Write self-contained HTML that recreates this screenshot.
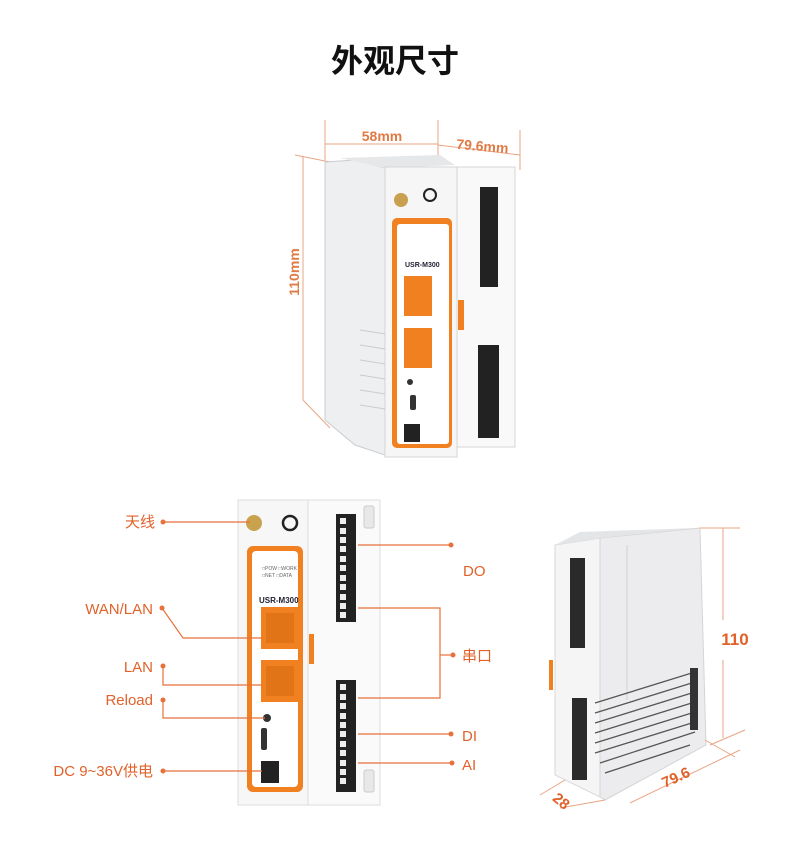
<!DOCTYPE html>
<html><head><meta charset="utf-8"><style>
body{margin:0;background:#fff;}
svg{display:block}
text{font-family:"Liberation Sans","Noto Sans CJK SC",sans-serif}
</style></head><body>
<svg width="790" height="860" viewBox="0 0 790 860" xmlns="http://www.w3.org/2000/svg">
<rect width="790" height="860" fill="#fff"/>
<text x="395" y="72" font-size="32" font-weight="bold" text-anchor="middle" fill="#111" font-family="Noto Sans CJK SC,sans-serif">外观尺寸</text>

<!-- top dimension lines -->
<g stroke="#e8a585" stroke-width="1" fill="none">
<line x1="325" y1="144" x2="438" y2="144"/>
<line x1="325" y1="120" x2="325" y2="160"/>
<line x1="438" y1="120" x2="438" y2="160"/>
<line x1="438" y1="145" x2="520" y2="155"/>
<line x1="520" y1="130" x2="520" y2="170"/>
<line x1="303" y1="157" x2="303" y2="400"/>
<line x1="295" y1="155" x2="330" y2="162"/>
<line x1="303" y1="400" x2="330" y2="428"/>
</g>
<text x="382" y="141" font-size="14" font-weight="bold" fill="#e07a45" text-anchor="middle">58mm</text>
<text x="482" y="151" font-size="14" font-weight="bold" fill="#e07a45" text-anchor="middle" transform="rotate(5 482 151)">79.6mm</text>
<text x="299" y="272" font-size="14" font-weight="bold" fill="#e07a45" text-anchor="middle" transform="rotate(-90 299 272)">110mm</text>

<!-- top device -->
<polygon points="325,162 355,160 385,168 385,455 355,445 325,420" fill="#eeeff1" stroke="#ccc"/>
<polygon points="340,158 440,155 455,165 385,168" fill="#e6e7e9"/>
<rect x="385" y="167" width="72" height="290" fill="#f6f6f7" stroke="#d5d5d5"/>
<rect x="392" y="218" width="60" height="230" rx="5" fill="#f08020"/>
<rect x="397" y="224" width="52" height="220" rx="3" fill="#fff"/>
<rect x="404" y="276" width="28" height="40" fill="#f08020"/>
<rect x="404" y="328" width="28" height="40" fill="#f08020"/>
<circle cx="401" cy="200" r="7" fill="#c8a050"/>
<circle cx="430" cy="195" r="6" fill="none" stroke="#222" stroke-width="2"/>
<text x="405" y="267" font-size="7" font-weight="bold" fill="#223">USR-M300</text>
<rect x="410" y="395" width="6" height="15" rx="2" fill="#333"/>
<circle cx="410" cy="382" r="3" fill="#333"/>
<rect x="404" y="424" width="16" height="18" fill="#222"/>
<g stroke="#ccc"><line x1="360" y1="330" x2="385" y2="334"/><line x1="360" y1="345" x2="385" y2="349"/><line x1="360" y1="360" x2="385" y2="364"/><line x1="360" y1="375" x2="385" y2="379"/><line x1="360" y1="390" x2="385" y2="394"/><line x1="360" y1="405" x2="385" y2="409"/></g>
<rect x="457" y="167" width="58" height="280" fill="#f9f9fa" stroke="#d5d5d5"/>
<rect x="480" y="187" width="18" height="100" fill="#222"/>
<rect x="478" y="345" width="21" height="93" fill="#222"/>
<rect x="458" y="300" width="6" height="30" fill="#f08020"/>

<!-- bottom front device -->
<rect x="238" y="500" width="70" height="305" fill="#f7f7f8" stroke="#ddd"/>
<rect x="308" y="500" width="72" height="305" fill="#fafafa" stroke="#ddd"/>
<rect x="247" y="546" width="56" height="246" rx="6" fill="#f08020"/>
<rect x="252" y="551" width="46" height="236" rx="4" fill="#fff"/>
<rect x="261" y="607" width="38" height="42" fill="#f08020"/>
<rect x="266" y="613" width="28" height="30" fill="#e27418"/>
<rect x="261" y="660" width="38" height="42" fill="#f08020"/>
<rect x="266" y="666" width="28" height="30" fill="#e27418"/>
<text x="259" y="603" font-size="8" font-weight="bold" fill="#223">USR-M300</text>
<text x="262" y="570" font-size="5" fill="#666">□POW □WORK</text>
<text x="262" y="577" font-size="5" fill="#666">□NET  □DATA</text>
<circle cx="254" cy="523" r="8" fill="#c9a24e"/>
<circle cx="290" cy="523" r="7" fill="none" stroke="#222" stroke-width="2.5"/>
<circle cx="267" cy="718" r="4" fill="#333"/>
<rect x="261" y="728" width="6" height="22" rx="2" fill="#333"/>
<rect x="261" y="761" width="18" height="22" fill="#222"/>
<rect x="336" y="514" width="20" height="108" fill="#222"/>
<rect x="336" y="680" width="20" height="112" fill="#222"/>
<g fill="#eee">
<rect x="340" y="518" width="6" height="6"/><rect x="340" y="528" width="6" height="6"/><rect x="340" y="537" width="6" height="6"/><rect x="340" y="546" width="6" height="6"/><rect x="340" y="556" width="6" height="6"/><rect x="340" y="565" width="6" height="6"/><rect x="340" y="575" width="6" height="6"/><rect x="340" y="584" width="6" height="6"/><rect x="340" y="594" width="6" height="6"/><rect x="340" y="603" width="6" height="6"/><rect x="340" y="612" width="6" height="6"/>
<rect x="340" y="684" width="6" height="6"/><rect x="340" y="694" width="6" height="6"/><rect x="340" y="703" width="6" height="6"/><rect x="340" y="713" width="6" height="6"/><rect x="340" y="722" width="6" height="6"/><rect x="340" y="731" width="6" height="6"/><rect x="340" y="741" width="6" height="6"/><rect x="340" y="750" width="6" height="6"/><rect x="340" y="760" width="6" height="6"/><rect x="340" y="769" width="6" height="6"/><rect x="340" y="778" width="6" height="6"/>
</g>
<rect x="364" y="506" width="10" height="22" rx="2" fill="#e8e8e8" stroke="#ccc"/>
<rect x="364" y="770" width="10" height="22" rx="2" fill="#e8e8e8" stroke="#ccc"/>
<rect x="309" y="634" width="5" height="30" fill="#f08020"/>

<!-- callouts -->
<g stroke="#e8703a" stroke-width="1.2" fill="none">
<line x1="163" y1="522" x2="250" y2="522"/>
<polyline points="162,608 183,638 262,638"/>
<polyline points="163,666 163,685 262,685"/>
<polyline points="163,700 163,718 265,718"/>
<line x1="163" y1="771" x2="262" y2="771"/>
<line x1="358" y1="545" x2="451" y2="545"/>
<polyline points="358,608 440,608 440,698 358,698"/>
<line x1="440" y1="655" x2="453" y2="655"/>
<line x1="358" y1="734" x2="451" y2="734"/>
<line x1="358" y1="763" x2="452" y2="763"/>
</g>
<g fill="#e8703a">
<circle cx="163" cy="522" r="2.5"/><circle cx="162" cy="608" r="2.5"/><circle cx="163" cy="666" r="2.5"/><circle cx="163" cy="700" r="2.5"/><circle cx="163" cy="771" r="2.5"/>
<circle cx="451" cy="545" r="2.5"/><circle cx="453" cy="655" r="2.5"/><circle cx="451" cy="734" r="2.5"/><circle cx="452" cy="763" r="2.5"/>
</g>
<g font-size="15" fill="#e0622a">
<text x="155" y="527" text-anchor="end">天线</text>
<text x="153" y="614" text-anchor="end">WAN/LAN</text>
<text x="153" y="672" text-anchor="end">LAN</text>
<text x="153" y="705" text-anchor="end">Reload</text>
<text x="153" y="776" text-anchor="end">DC 9~36V供电</text>
<text x="463" y="576">DO</text>
<text x="462" y="661">串口</text>
<text x="462" y="741">DI</text>
<text x="462" y="770">AI</text>
</g>

<!-- right isometric device -->
<polygon points="555,545 600,538 600,797 555,775" fill="#f5f5f6" stroke="#d8d8d8"/>
<polygon points="600,538 700,528 706,745 605,800 600,797" fill="#ececee" stroke="#d5d5d5"/>
<polygon points="555,545 580,532 695,528 600,538" fill="#e4e5e7"/>
<line x1="627" y1="545" x2="627" y2="700" stroke="#d0d0d0"/>
<rect x="570" y="558" width="15" height="90" fill="#2a2a2a"/>
<rect x="572" y="698" width="15" height="82" fill="#2a2a2a"/>
<rect x="549" y="660" width="4" height="30" fill="#f08020"/>
<g stroke="#555" stroke-width="1.3"><line x1="595" y1="703" x2="695" y2="672"/><line x1="595" y1="713" x2="695" y2="682"/><line x1="595" y1="723" x2="695" y2="692"/><line x1="595" y1="733" x2="695" y2="702"/><line x1="595" y1="743" x2="695" y2="712"/><line x1="595" y1="753" x2="695" y2="722"/><line x1="600" y1="763" x2="695" y2="732"/><line x1="605" y1="773" x2="690" y2="745"/></g>
<rect x="690" y="668" width="8" height="62" fill="#333"/>
<g stroke="#e8a585" stroke-width="1" fill="none">
<line x1="723" y1="528" x2="723" y2="620"/>
<line x1="723" y1="660" x2="723" y2="738"/>
<line x1="700" y1="528" x2="740" y2="528"/>
<line x1="710" y1="745" x2="745" y2="730"/>
<line x1="630" y1="803" x2="740" y2="750"/>
<line x1="705" y1="740" x2="735" y2="757"/>
<line x1="540" y1="795" x2="565" y2="780"/>
<line x1="560" y1="808" x2="605" y2="800"/>
</g>
<text x="735" y="645" font-size="17" font-weight="bold" fill="#e0622a" text-anchor="middle">110</text>
<text x="678" y="782" font-size="15" font-weight="bold" fill="#e0622a" text-anchor="middle" transform="rotate(-25 678 782)">79.6</text>
<text x="558" y="805" font-size="15" font-weight="bold" fill="#e0622a" text-anchor="middle" transform="rotate(40 558 805)">28</text>
</svg>
</body></html>
